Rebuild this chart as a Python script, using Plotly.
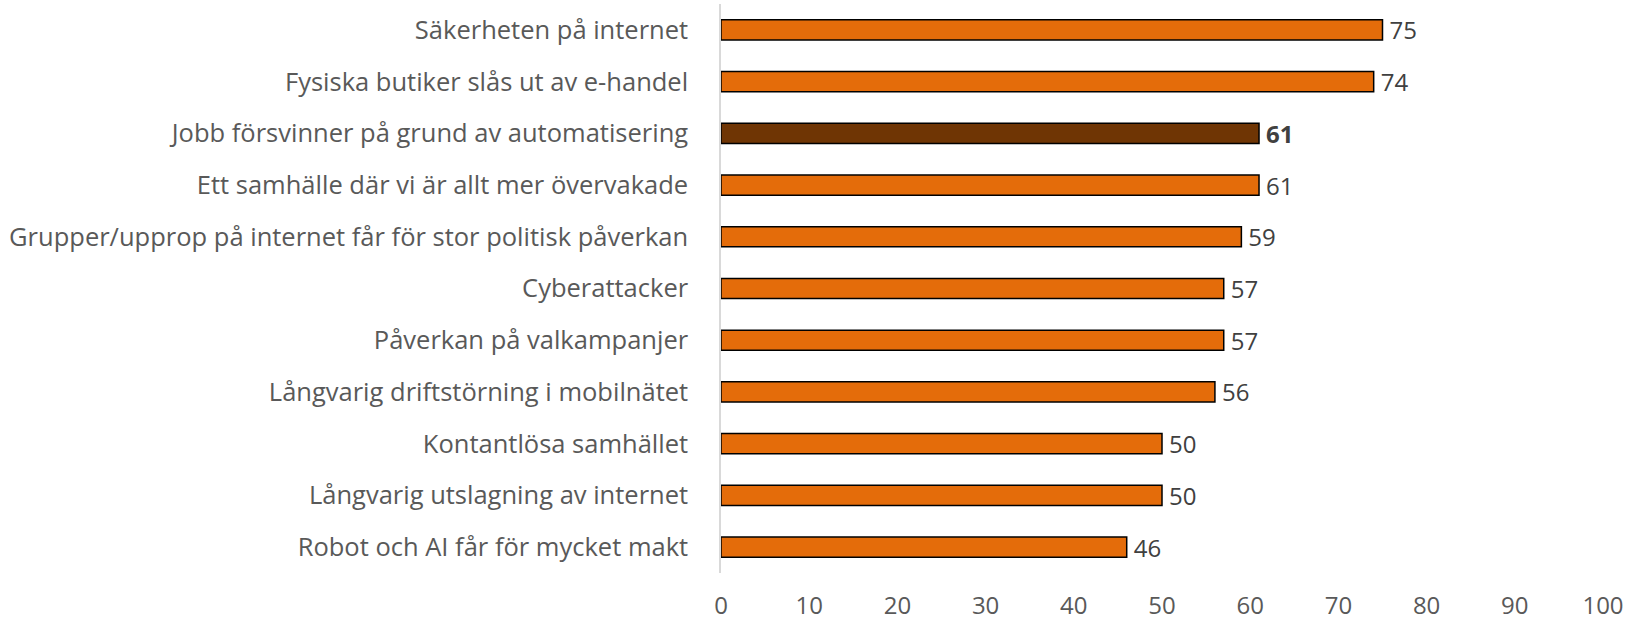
import plotly.graph_objects as go

categories = [
    "Säkerheten på internet",
    "Fysiska butiker slås ut av e-handel",
    "Jobb försvinner på grund av automatisering",
    "Ett samhälle där vi är allt mer övervakade",
    "Grupper/upprop på internet får för stor politisk påverkan",
    "Cyberattacker",
    "Påverkan på valkampanjer",
    "Långvarig driftstörning i mobilnätet",
    "Kontantlösa samhället",
    "Långvarig utslagning av internet",
    "Robot och AI får för mycket makt",
]
values = [75, 74, 61, 61, 59, 57, 57, 56, 50, 50, 46]
highlight = "Jobb försvinner på grund av automatisering"
x_ticks = [0, 10, 20, 30, 40, 50, 60, 70, 80, 90, 100]

FONT = "Open Sans, Noto Sans, Arial"
colors = ["#6F3504" if c == highlight else "#E46C0A" for c in categories]
texts = [f"\u2009<b>{v}</b>" if c == highlight else f"\u2009{v}" for c, v in zip(categories, values)]

fig = go.Figure(go.Bar(
    x=values, y=categories, orientation="h",
    marker=dict(color=colors, line=dict(color="#000000", width=1.5)),
    text=texts, textposition="outside", cliponaxis=False, constraintext="none",
    textfont=dict(family=FONT, size=24, color="#404040"),
    hoverinfo="skip",
))

fig.update_layout(
    width=1627, height=624,
    margin=dict(l=721, r=24, t=4, b=51, autoexpand=False),
    paper_bgcolor="white", plot_bgcolor="white",
    bargap=0.61, showlegend=False,
    font=dict(family=FONT, color="#595959", size=25),
)
fig.update_xaxes(range=[0, 100], tickvals=x_ticks, showgrid=False, zeroline=False,
                 showline=False, ticks="", ticklabelstandoff=16, automargin=False,
                 tickfont=dict(family=FONT, size=24, color="#595959"))
fig.update_yaxes(categoryorder="array", categoryarray=categories, autorange="reversed",
                 showline=True, linecolor="#D9D9D9", linewidth=1.5, ticks="", automargin=False,
                 ticklabelstandoff=26, tickfont=dict(family=FONT, size=25.5, color="#595959"), showgrid=False)

fig.write_html("out.html", config={"displayModeBar": False},
               post_script="document.body.style.margin='0';document.body.style.overflow='hidden';")
